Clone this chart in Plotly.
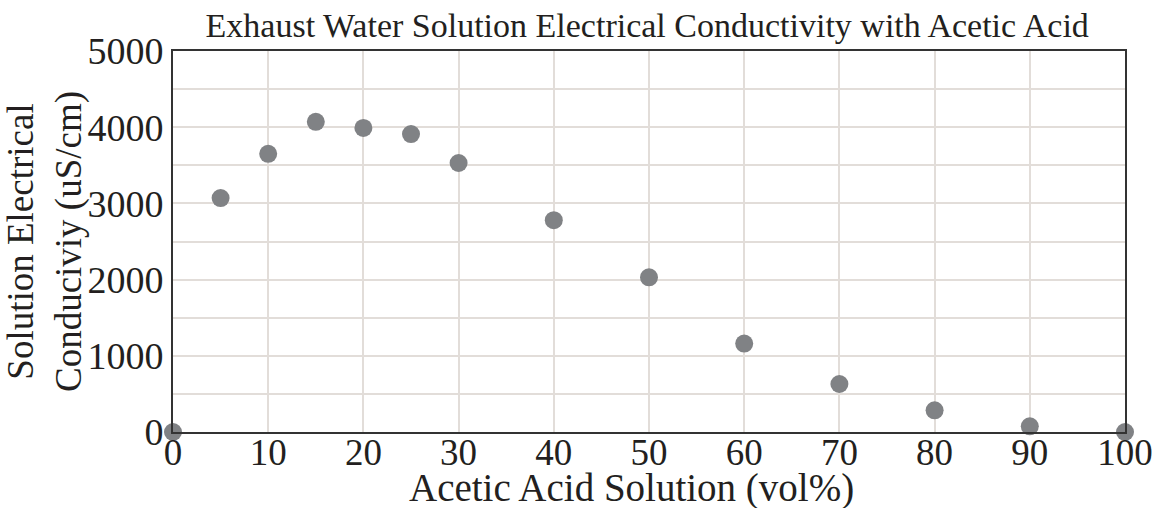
import plotly.graph_objects as go

acetic_vol = [0, 5, 10, 15, 20, 25, 30, 40, 50, 60, 70, 80, 90, 100]
conductivity = [0, 3070, 3650, 4070, 3990, 3910, 3530, 2780, 2030, 1160, 630, 285, 75, 0]
x_ticks = [0, 10, 20, 30, 40, 50, 60, 70, 80, 90, 100]
y_ticks = [0, 1000, 2000, 3000, 4000, 5000]

font_family = "Liberation Serif"

fig = go.Figure()
fig.add_trace(go.Scatter(
    x=acetic_vol, y=conductivity, mode="markers",
    marker=dict(size=18, color="#808285"),
    cliponaxis=False, showlegend=False,
))

fig.update_layout(
    width=1162, height=508,
    margin=dict(l=173, r=37, t=51, b=76, autoexpand=False),
    paper_bgcolor="white", plot_bgcolor="white",
    title=dict(text="Exhaust Water Solution Electrical Conductivity with Acetic Acid",
               x=0.557, xanchor="center", y=0.95, yanchor="middle",
               font=dict(family=font_family, size=34, color="#231f20")),
    font=dict(family=font_family, color="#231f20"),
    annotations=[dict(
        text="Acetic Acid Solution (vol%)", xref="paper", yref="paper",
        x=0.482, y=-0.148, xanchor="center", yanchor="middle", showarrow=False,
        font=dict(size=39, family=font_family, color="#231f20"),
    )],
)
fig.update_xaxes(
    range=[0, 100], tickvals=x_ticks, ticks="", showgrid=True,
    gridcolor="#e2ddd9", gridwidth=2, automargin=False,
    showline=True, linecolor="#333333", linewidth=2, mirror=True,
    tickfont=dict(size=37), zeroline=False, ticklabelstandoff=-13,
)
fig.update_yaxes(
    range=[0, 5000], tickvals=y_ticks, ticks="", showgrid=True,
    gridcolor="#e2ddd9", gridwidth=2, automargin=False,
    minor=dict(dtick=500, showgrid=True, gridcolor="#e2ddd9", gridwidth=2, ticks=""),
    showline=True, linecolor="#333333", linewidth=2, mirror=True,
    tickfont=dict(size=38), zeroline=False,
    title=dict(text="Solution Electrical<br>Conduciviy (uS/cm)", font=dict(size=37), standoff=8),
)

fig.write_html("out.html")
